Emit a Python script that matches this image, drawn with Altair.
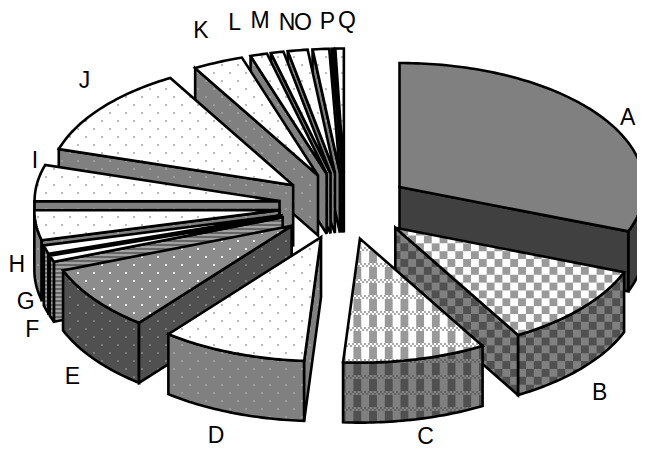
import math
import altair as alt

# ---- chart values (share of the pie, in degrees) ----
categories = list("ABCDEFGHIJKLMNOPQ")
values = [111.0, 39.0, 34.0, 34.6, 30.4, 3.0, 4.0, 14.0, 17.0, 43.0, 12.0, 4.0, 3.0, 4.7, 3.9, 0.5, 2.0]
label_nudge_x = [-4, -10, 2, -3, 8, 15, 15, 17, 34, 12, -2, -14, -9, -5, -15, -4, 8]
label_nudge_y = [17, 6, -10, -3, 1, 2, -15, -24, -18, -9, -5, -4, -3, 1, 2, 2, 1]
top_styles = ["solid", "checker", "plaid", "dots", "darkdots", "white", "white", "dots", "dots", "dots",
              "dots", "dots", "dots", "dots", "dots", "dots", "dots"]
wall_styles = ["dark", "checkerwall", "plaidwall", "dotwall", "darkwall", "stripe", "stripe", "dotwall", "dotwall",
               "dotwall", "dotwall", "dotwall", "dotwall", "dotwall", "dotwall", "dotwall", "dotwall"]

# ---- pie geometry ----
CX, CY, RX, RY, DEPTH, EXPLODE = 345.0, 206.0, 245.0, 124.0, 60.0, 0.27
OFFSET = 8.0  # page margin
LINE = 2.6


def clip_rect(poly, x0, y0, x1, y1):
    def clip(pts, inside, cross):
        out = []
        for i, p in enumerate(pts):
            q = pts[i - 1]
            if inside(p):
                if not inside(q):
                    out.append(cross(q, p))
                out.append(p)
            elif inside(q):
                out.append(cross(q, p))
        return out

    def cx(v):
        return lambda a, b: (v, a[1] + (b[1] - a[1]) * (v - a[0]) / (b[0] - a[0]))

    def cy(v):
        return lambda a, b: (a[0] + (b[0] - a[0]) * (v - a[1]) / (b[1] - a[1]), v)

    for inside, cross in (
        (lambda p: p[0] >= x0, cx(x0)),
        (lambda p: p[0] <= x1, cx(x1)),
        (lambda p: p[1] >= y0, cy(y0)),
        (lambda p: p[1] <= y1, cy(y1)),
    ):
        if not poly:
            return []
        poly = clip(poly, inside, cross)
    return poly


def cells(style):
    """Yield (x0, y0, x1, y1, colour) for the repeated cells of a fill pattern."""
    out = []
    if style in ("dots", "dotwall", "darkdots", "darkwall"):
        col = {"dots": "#bcbcbc", "dotwall": "#9c9c9c", "darkdots": "#f0f0f0", "darkwall": "#7c7c7c"}[style]
        for r in range(0, 60):
            y = 1 + 8 * r
            for c in range(0, 42):
                x = 6 + 16 * c + (8 if r % 2 == 0 else 0)
                out.append((x - 1, y - 1, x + 1, y + 1, col))
    elif style in ("checker", "checkerwall"):
        col = "#999999" if style == "checker" else "#505050"
        for r in range(0, 60):
            for c in range(0, 84):
                if (r + c) % 2 == 0:
                    out.append((c * 7.85, r * 7.85, (c + 1) * 7.85, (r + 1) * 7.85, col))
    elif style in ("plaid", "plaidwall"):
        col = "#999999" if style == "plaid" else "#505050"
        fine = "#aaaaaa" if style == "plaid" else "#666666"
        for r in range(0, 30):
            y = 7 + 16 * r
            for c in range(0, 42):
                x = 8 + 15.7 * c
                out.append((x, y + 4, x + 7.85, y + 16, col))
            for k in range(0, 330):
                if k % 2 == 0:
                    out.append((k * 2, y, k * 2 + 2, y + 2, fine))
                else:
                    out.append((k * 2, y + 2, k * 2 + 2, y + 4, fine))
    elif style == "stripe":
        for r in range(0, 120):
            out.append((0, r * 4, 660, r * 4 + 2, "#666666"))
    return out


BASE = {
    "solid": "#808080", "dark": "#404040", "checker": "#ffffff", "checkerwall": "#808080",
    "plaid": "#ffffff", "plaidwall": "#808080", "dots": "#ffffff", "dotwall": "#808080",
    "darkdots": "#8c8c8c", "darkwall": "#505050", "white": "#ffffff", "stripe": "#a0a0a0",
}

features = []


def feature(poly, fill, stroke, width):
    ring = [[round(x - OFFSET, 2), round(y - OFFSET, 2)] for x, y in poly]
    ring.append(ring[0])
    features.append({
        "type": "Feature",
        "geometry": {"type": "Polygon", "coordinates": [ring]},
        "properties": {"fill": fill, "stroke": stroke, "sw": width},
    })


def face(poly, style):
    feature(poly, BASE[style], "transparent", 0)
    xs = [p[0] for p in poly]
    ys = [p[1] for p in poly]
    bx0, bx1, by0, by1 = min(xs), max(xs), min(ys), max(ys)
    for x0, y0, x1, y1, col in cells(style):
        if x1 < bx0 or x0 > bx1 or y1 < by0 or y0 > by1:
            continue
        piece = clip_rect(poly, x0, y0, x1, y1)
        if len(piece) >= 3:
            feature(piece, col, "transparent", 0)
    feature(poly, "transparent", "#000000", LINE)


starts = []
acc = 0.0
for v in values:
    starts.append(acc)
    acc += v
scale = 360.0 / acc

texts = []
geom = []
for i, name in enumerate(categories):
    s = starts[i] * scale
    e = (starts[i] + values[i]) * scale
    m = math.radians((s + e) / 2)
    ax = CX + EXPLODE * RX * math.sin(m)
    ay = CY - EXPLODE * RY * math.cos(m)
    geom.append((s, e, ax, ay))
    lower = DEPTH if math.cos(m) < 0 else 0
    texts.append({
        "label": name,
        "lx": CX + 1.42 * RX * math.sin(m) + label_nudge_x[i] - OFFSET,
        "ly": CY - 1.5 * RY * math.cos(m) + lower + label_nudge_y[i] - OFFSET,
    })


def arc(i, a0, a1):
    _, _, ax, ay = geom[i]
    n = max(2, int(abs(a1 - a0)) + 2)
    return [
        (ax + RX * math.sin(math.radians(a0 + (a1 - a0) * k / (n - 1))),
         ay - RY * math.cos(math.radians(a0 + (a1 - a0) * k / (n - 1))))
        for k in range(n)
    ]


def draw(i):
    s, e, ax, ay = geom[i]
    wall = wall_styles[i]
    lo, hi = max(s, 90.0), min(e, 270.0)
    if hi > lo:
        pts = arc(i, lo, hi)
        face(pts + [(x, y + DEPTH) for x, y in reversed(pts)], wall)
    if math.sin(math.radians(s)) < -1e-6:
        p = arc(i, s, s)[0]
        face([(ax, ay), p, (p[0], p[1] + DEPTH), (ax, ay + DEPTH)], wall)
    if math.sin(math.radians(e)) > 1e-6:
        p = arc(i, e, e)[0]
        face([(ax, ay), p, (p[0], p[1] + DEPTH), (ax, ay + DEPTH)], wall)
    face([(ax, ay)] + arc(i, s, e), top_styles[i])


for i in list(range(len(categories) - 1, 3, -1)) + [0, 1, 2, 3]:
    draw(i)

shapes = alt.Chart(alt.Data(values=features)).mark_geoshape(strokeJoin="miter", strokeMiterLimit=3).encode(
    fill=alt.Fill("properties.fill:N", scale=None, legend=None),
    stroke=alt.Stroke("properties.stroke:N", scale=None, legend=None),
    strokeWidth=alt.StrokeWidth("properties.sw:Q", scale=None, legend=None),
)
labels = alt.Chart(alt.Data(values=texts)).mark_text(
    font="Liberation Sans", fontSize=23, color="#000000", align="center", baseline="middle"
).encode(longitude="lx:Q", latitude="ly:Q", text="label:N")

chart = (
    alt.layer(shapes, labels)
    .project(type="identity", scale=1, translate=[0, 0])
    .properties(width=629, height=441, padding=0, autosize=alt.AutoSizeParams(type="none"), background="#ffffff")
    .configure_view(stroke=None)
)
chart.save("out.html", embed_options={"renderer": "svg", "actions": False})
